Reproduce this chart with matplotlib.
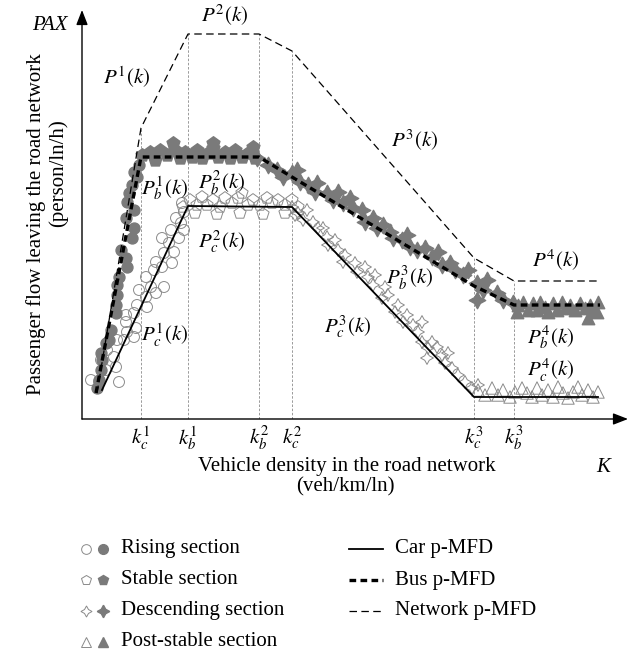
import numpy as np
import matplotlib
matplotlib.use("Agg")
import matplotlib.pyplot as plt

plt.rcParams["font.family"] = ["Liberation Serif", "DejaVu Serif"]
plt.rcParams["mathtext.fontset"] = "stix"

# === p-MFD break points (arbitrary density / flow units) ===
net_k = [15, 59, 106, 177, 210, 392, 432, 518]
net_q = [26, 291, 385, 385, 368, 161, 138, 138]
bus_k = [14, 59, 177, 210, 392, 432, 518]
bus_q = [26, 262, 262, 242, 133, 114, 114]
car_k = [20, 106, 210, 392, 516]
car_q = [29, 213, 212, 22, 22]

# critical densities
k_crit = [59, 106, 177, 210, 392, 432]
k_labels = [r"$k_c^1$", r"$k_b^1$", r"$k_b^2$", r"$k_c^2$", r"$k_c^3$", r"$k_b^3$"]

# === observed points ===
rise_bus_k = [15, 17, 19, 20, 19, 24, 27, 29, 34, 34, 35, 35, 37, 45, 44, 39, 50, 52, 44, 52, 45, 47, 50, 52, 55, 57]
rise_bus_q = [31, 39, 49, 59, 66, 76, 79, 89, 106, 114, 124, 134, 142, 152, 161, 169, 181, 191, 201, 209, 217, 226, 234, 247, 242, 254]
rise_car_k = [9, 17, 37, 24, 34, 19, 32, 25, 42, 35, 52, 45, 54, 44, 52, 44, 65, 55, 64, 74, 57, 69, 82, 64, 72, 80,
              90, 74, 82, 92, 87, 97, 80, 89, 102, 99, 94, 102, 100]
rise_car_q = [39, 37, 37, 49, 52, 59, 62, 69, 79, 79, 82, 87, 91, 97, 106, 104, 112, 114, 122, 126, 129, 132, 132, 142, 149, 152,
              156, 157, 166, 167, 176, 181, 181, 189, 189, 196, 201, 207, 216]

stab_bus_k = [60, 68, 73, 78, 85, 91, 93, 98, 103, 110, 115, 120, 126, 131, 131, 136, 143, 148, 153, 160, 166, 171, 173]
stab_bus_q = [264, 267, 259, 269, 264, 276, 269, 261, 267, 262, 269, 261, 266, 271, 276, 262, 267, 261, 269, 262, 266, 272, 261]
stab_car_k = [101, 108, 115, 120, 125, 131, 138, 143, 150, 156, 160, 166, 171, 178, 185, 190, 196, 203, 210, 216,
              113, 135, 158, 181, 203]
stab_car_q = [212, 219, 214, 222, 214, 219, 212, 221, 216, 221, 226, 214, 219, 214, 221, 216, 219, 214, 219, 212,
              206, 205, 206, 205, 206]

desc_bus_k = [175, 186, 195, 201, 210, 215, 218, 226, 235, 233, 245, 251, 256, 261, 268, 271, 280, 283, 291, 295, 301,
              308, 311, 320, 325, 328, 335, 343, 350, 356, 360, 368, 373, 381, 386, 395, 401, 405, 415, 421, 431, 395]
desc_bus_q = [261, 254, 249, 242, 246, 249, 237, 234, 236, 227, 226, 219, 227, 216, 221, 211, 209, 197, 201, 191, 194,
              187, 181, 179, 184, 172, 169, 171, 162, 167, 154, 156, 149, 144, 149, 136, 129, 139, 126, 119, 116, 119]
desc_car_k = [210, 213, 216, 225, 221, 231, 236, 241, 245, 253, 246, 256, 263, 261, 273, 275, 283, 286, 293, 291, 303,
              306, 300, 316, 313, 325, 321, 331, 340, 336, 340, 350, 346, 355, 360, 366, 363, 345, 370, 376, 383, 390, 396]
desc_car_q = [212, 204, 206, 209, 199, 197, 191, 191, 182, 179, 174, 169, 164, 157, 156, 147, 152, 142, 144, 134, 132,
              124, 121, 114, 107, 104, 97, 94, 97, 87, 77, 77, 71, 72, 64, 66, 56, 61, 51, 44, 37, 31, 34]

post_bus_k = [436, 441, 446, 451, 455, 458, 463, 466, 471, 475, 480, 483, 488, 493, 498, 503, 508, 511, 516, 506, 515, 435]
post_bus_q = [114, 117, 109, 116, 109, 117, 112, 107, 116, 109, 117, 111, 114, 109, 116, 111, 114, 109, 117, 101, 107, 107]
post_car_k = [396, 403, 410, 416, 421, 428, 433, 440, 445, 450, 455, 460, 466, 471, 476, 481, 486, 491, 496, 500, 506, 511, 516]
post_car_q = [29, 24, 31, 24, 29, 22, 27, 31, 26, 22, 31, 24, 29, 22, 32, 26, 21, 27, 32, 24, 29, 22, 27]

grey = "#7a7a7a"
edge = "#8a8a8a"
star4 = (4, 1, 0)

fig = plt.figure(figsize=(6.33, 6.58), dpi=100)
ax = fig.add_axes([82 / 633, 239 / 658, 546 / 633, 409 / 658])
ax.set_xlim(0, 546)
ax.set_ylim(0, 409)

# === scatter of sections ===
ax.scatter(rise_car_k, rise_car_q, s=62, marker="o", facecolors="none", edgecolors=edge, linewidths=0.7, zorder=2)
ax.scatter(rise_bus_k, rise_bus_q, s=62, marker="o", color=grey, zorder=2)
ax.scatter(stab_car_k, stab_car_q, s=85, marker="p", facecolors="none", edgecolors=edge, linewidths=0.7, zorder=2)
ax.scatter(stab_bus_k, stab_bus_q, s=95, marker="p", color=grey, zorder=2)
ax.scatter(desc_car_k, desc_car_q, s=85, marker=star4, facecolors="none", edgecolors=edge, linewidths=0.7, zorder=2)
ax.scatter(desc_bus_k, desc_bus_q, s=140, marker=star4, color=grey, zorder=2)
ax.scatter(post_car_k, post_car_q, s=80, marker="^", facecolors="none", edgecolors=edge, linewidths=0.7, zorder=2)
ax.scatter(post_bus_k, post_bus_q, s=80, marker="^", color=grey, zorder=2)

# === p-MFD curves ===
ax.plot(net_k, net_q, color="black", lw=0.9, dashes=(6, 3.5), zorder=3)
ax.plot(bus_k, bus_q, color="black", lw=2.4, dashes=(2, 1.3), zorder=4)
ax.plot(car_k, car_q, color="black", lw=1.3, zorder=3)

# critical density guide lines
ax.vlines(k_crit, 0, np.interp(k_crit, net_k, net_q), colors="#8a8a8a", linestyles=(0, (3, 2)), lw=0.6, zorder=1)

# === axes with arrows ===
for s in ax.spines.values():
    s.set_visible(False)
ax.annotate("", xy=(1, 0), xytext=(0, 0), xycoords="axes fraction",
            arrowprops=dict(arrowstyle="-|>,head_length=0.9,head_width=0.35", color="black", lw=1, shrinkA=0, shrinkB=0))
ax.annotate("", xy=(0, 1), xytext=(0, 0), xycoords="axes fraction",
            arrowprops=dict(arrowstyle="-|>,head_length=0.9,head_width=0.35", color="black", lw=1, shrinkA=0, shrinkB=0))
ax.set_xticks(k_crit)
ax.set_xticklabels(k_labels, fontsize=15)
ax.set_yticks([])
ax.tick_params(axis="x", length=0, pad=4)

# === curve labels ===
fs = 15
ax.text(45, 342, r"$P^1(k)$", fontsize=fs, ha="center", va="center")
ax.text(143, 404, r"$P^2(k)$", fontsize=fs, ha="center", va="center")
ax.text(333, 279, r"$P^3(k)$", fontsize=fs, ha="center", va="center")
ax.text(474, 159, r"$P^4(k)$", fontsize=fs, ha="center", va="center")
ax.text(83, 231, r"$P_b^1(k)$", fontsize=fs, ha="center", va="center")
ax.text(140, 236, r"$P_b^2(k)$", fontsize=fs, ha="center", va="center")
ax.text(140, 177, r"$P_c^2(k)$", fontsize=fs, ha="center", va="center")
ax.text(83, 84, r"$P_c^1(k)$", fontsize=fs, ha="center", va="center")
ax.text(328, 141, r"$P_b^3(k)$", fontsize=fs, ha="center", va="center")
ax.text(266, 92, r"$P_c^3(k)$", fontsize=fs, ha="center", va="center")
ax.text(469, 82, r"$P_b^4(k)$", fontsize=fs, ha="center", va="center")
ax.text(469, 49, r"$P_c^4(k)$", fontsize=fs, ha="center", va="center")

# === axis titles and legend (figure pixel layout) ===
lax = fig.add_axes([0, 0, 1, 1], zorder=-1)
lax.set_xlim(0, 633)
lax.set_ylim(658, 0)
lax.axis("off")

lax.text(50, 25, "PAX", fontsize=fs, style="italic", ha="center", va="center")
lax.text(603, 467, "K", fontsize=fs, style="italic", ha="center", va="center")
lax.text(347, 467, "Vehicle density in the road network", fontsize=fs, ha="center", va="center")
lax.text(345, 487, "(veh/km/ln)", fontsize=fs, ha="center", va="center")
lax.text(36, 224, "Passenger flow leaving the road network", fontsize=fs, rotation=90, ha="center", va="center")
lax.text(58, 173, "(person/ln/h)", fontsize=fs, rotation=90, ha="center", va="center")

sections = ["Rising section", "Stable section", "Descending section", "Post-stable section"]
sec_markers = ["o", "p", star4, "^"]
rows = [549, 580, 611, 642]
for name, m, y in zip(sections, sec_markers, rows):
    lax.plot(86, y, marker=m, ms=7 if m != star4 else 8, mfc="none", mec=edge, mew=0.7, ls="none")
    lax.plot(103, y, marker=m, ms=7 if m != star4 else 9, color=grey, ls="none")
    lax.text(121, y, name, fontsize=fs, ha="left", va="center")

curves = ["Car p-MFD", "Bus p-MFD", "Network p-MFD"]
line_kw = [dict(lw=1.3), dict(lw=2.4, dashes=(2, 1.3)), dict(lw=0.9, dashes=(6, 3.5))]
for name, kw, y in zip(curves, line_kw, rows):
    lax.plot([349, 383], [y, y], color="black", **kw)
    lax.text(395, y, name, fontsize=fs, ha="left", va="center")

fig.savefig("out.png", dpi=100)
